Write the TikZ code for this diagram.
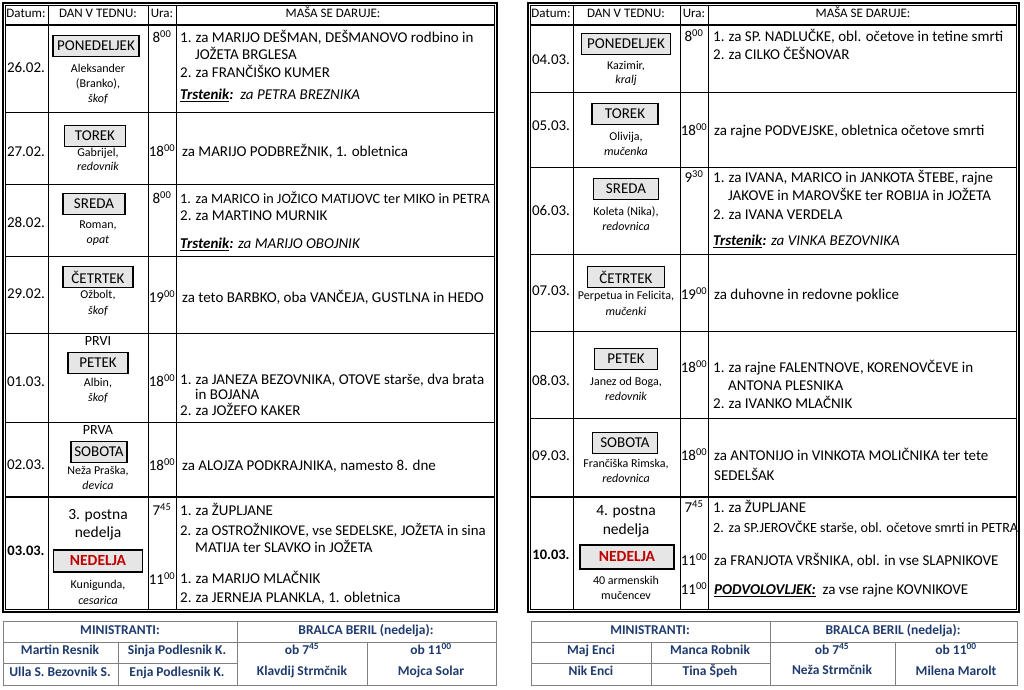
\documentclass[tikz,border=0pt]{standalone}
\usepackage{fontspec}
\setmainfont{Carlito}
\definecolor{boxgray}{HTML}{E6E6E6}
\definecolor{ndred}{HTML}{C00000}
\definecolor{navy}{HTML}{1F3A6E}
\definecolor{gridgray}{HTML}{808080}
\newcommand{\fs}[2]{\fontsize{#1}{#2}\selectfont}
\newcommand{\hr}[1]{\textsuperscript{#1}}
\newcommand{\nr}[1]{\makebox[15.5pt][l]{#1}}
\tikzset{
  thickborder/.style={line width=2pt},
  thinborder/.style={line width=0.8pt},
  gridline/.style={line width=1pt},
  hdrline/.style={line width=2pt},
  hdr/.style={font=\fs{13}{15}, inner sep=0pt, anchor=mid},
  txt/.style={font=\fs{15}{18}, inner sep=0pt, anchor=mid west},
  datum/.style={font=\fs{15}{18}, inner sep=0pt, anchor=mid},
  saint/.style={font=\fs{12}{14}, inner sep=0pt, anchor=mid},
  ura/.style={font=\fs{15}{18}, inner sep=0pt, anchor=mid},
  big/.style={font=\fs{15.5}{18}, inner sep=0pt, anchor=mid},
  daybox/.style={draw, line width=1.4pt, fill=boxgray, font=\fs{15}{18}, minimum height=21pt, inner sep=0pt, anchor=center},
  btab/.style={draw=gridgray, line width=1pt},
  btxt/.style={font=\bfseries\fs{13.5}{16}, text=navy, inner sep=0pt, anchor=mid},
}
\begin{document}
\begin{tikzpicture}[x=1pt,y=-1pt]
\useasboundingbox[fill=white] (0,0) rectangle (1024,689);

% ================= LEFT TABLE =================
\node[hdr] (lh1) at (26,15) {Datum:};
\node[hdr] (lh2) at (98,15) {DAN V TEDNU:};
\node[hdr] (lh3) at (162,15) {Ura:};
\node[hdr] (lh4) at (333,15) {MAŠA SE DARUJE:};

% row 1
\node[datum] (l1d) at (26,70) {26.02.};
\node[daybox, minimum width=86pt] (l1b) at (96,46) {PONEDELJEK};
\node[saint] (l1s1) at (98,70) {Aleksander};
\node[saint] (l1s2) at (98,85) {(Branko),};
\node[saint] (l1s3) at (98,100) {\itshape škof};
\node[ura] (l1u) at (162,40) {8\hr{00}};

% row 2
\node[datum] (l2d) at (26,154) {27.02.};
\node[daybox, minimum width=61pt] (l2b) at (95,136) {TOREK};
\node[saint] (l2s1) at (98,154) {Gabrijel,};
\node[saint] (l2s2) at (98,168) {\itshape redovnik};
\node[ura] (l2u) at (162,154) {18\hr{00}};

% row 3
\node[datum] (l3d) at (26,225) {28.02.};
\node[daybox, minimum width=62pt] (l3b) at (94,204) {SREDA};
\node[saint] (l3s1) at (98,226) {Roman,};
\node[saint] (l3s2) at (98,241) {\itshape opat};
\node[ura] (l3u) at (162,201) {8\hr{00}};

% row 4
\node[datum] (l4d) at (26,296) {29.02.};
\node[daybox, minimum width=70pt] (l4b) at (98,277) {ČETRTEK};
\node[saint] (l4s1) at (98,296) {Ožbolt,};
\node[saint] (l4s2) at (98,312) {\itshape škof};
\node[ura] (l4u) at (162,300) {19\hr{00}};

% row 5
\node[saint, font=\fs{14}{16}] (l5p) at (98,343) {PRVI};
\node[daybox, minimum width=60pt] (l5b) at (98,363) {PETEK};
\node[saint] (l5s1) at (98,384) {Albin,};
\node[saint] (l5s2) at (98,399) {\itshape škof};
\node[datum] (l5d) at (26,384) {01.03.};
\node[ura] (l5u) at (162,384) {18\hr{00}};

% row 6
\node[saint, font=\fs{14}{16}] (l6p) at (98,432) {PRVA};
\node[daybox, minimum width=56pt] (l6b) at (99,452) {SOBOTA};
\node[saint] (l6s1) at (98,472) {Neža Praška,};
\node[saint] (l6s2) at (98,487) {\itshape devica};
\node[datum] (l6d) at (26,467) {02.03.};
\node[ura] (l6u) at (162,468) {18\hr{00}};

% row 7
\node[big] (l7p1) at (98,517) {3. postna};
\node[big] (l7p2) at (98,535) {nedelja};
\node[daybox, minimum width=89pt, minimum height=22pt, text=ndred, font=\bfseries\fs{15.5}{18}] (l7b) at (98,561) {NEDELJA};
\node[saint] (l7s1) at (98,586) {Kunigunda,};
\node[saint] (l7s2) at (98,602) {\itshape cesarica};
\node[datum, font=\bfseries\fs{14.5}{18}] (l7d) at (26,553) {03.03.};
\node[ura] (l7u1) at (162,513) {7\hr{45}};
\node[ura] (l7u2) at (162,582) {11\hr{00}};

\node[txt] (l1t1) at (180,40) {\nr{1.}za MARIJO DEŠMAN, DEŠMANOVO rodbino in};
\node[txt] (l1t2) at (195,57) {JOŽETA BRGLESA};
\node[txt] (l1t3) at (180,75) {\nr{2.}za FRANČIŠKO KUMER};
\node[txt] (l1t4) at (180,97) {\textbf{\textit{\underline{Trstenik}:}}\ \ \textit{za PETRA BREZNIKA}};
\node[txt] (l2t1) at (182,154) {za MARIJO PODBREŽNIK, 1. obletnica};
\node[txt, font=\fs{14.25}{18}] (l3t1) at (180,201) {\nr{1.}za MARICO in JOŽICO MATIJOVC ter MIKO in PETRA};
\node[txt] (l3t2) at (180,218) {\nr{2.}za MARTINO MURNIK};
\node[txt] (l3t3) at (180,246) {\textbf{\textit{\underline{Trstenik}:}} \textit{za MARIJO OBOJNIK}};
\node[txt] (l4t1) at (182,300) {za teto BARBKO, oba VANČEJA, GUSTLNA in HEDO};
\node[txt] (l5t1) at (180,382) {\nr{1.}za JANEZA BEZOVNIKA, OTOVE starše, dva brata};
\node[txt] (l5t2) at (195,397) {in BOJANA};
\node[txt] (l5t3) at (180,413) {\nr{2.}za JOŽEFO KAKER};
\node[txt] (l6t1) at (182,468) {za ALOJZA PODKRAJNIKA, namesto 8. dne};
\node[txt] (l7t1) at (180,513) {\nr{1.}za ŽUPLJANE};
\node[txt, font=\fs{14.8}{18}] (l7t2) at (180,533) {\nr{2.}za OSTROŽNIKOVE, vse SEDELSKE, JOŽETA in sina};
\node[txt] (l7t3) at (195,550) {MATIJA ter SLAVKO in JOŽETA};
\node[txt] (l7t4) at (180,581) {\nr{1.}za MARIJO MLAČNIK};
\node[txt] (l7t5) at (180,600) {\nr{2.}za JERNEJA PLANKLA, 1. obletnica};

\draw[gridline] (5,112) -- (494,112) (5,184) -- (494,184) (5,256) -- (494,256)
                (5,333) -- (494,333) (5,422) -- (494,422);
\draw[hdrline] (5,25) -- (494,25) (5,497) -- (494,497);
\draw[gridline] (48,5) -- (48,609) (148,5) -- (148,609) (176,5) -- (176,609);
\draw[thickborder] (2.5,2.5) rectangle (496.5,611.5);
\draw[thinborder] (5,5) rectangle (494,609);

% ================= RIGHT TABLE =================
\node[hdr] (rh1) at (551,15) {Datum:};
\node[hdr] (rh2) at (626,15) {DAN V TEDNU:};
\node[hdr] (rh3) at (694,15) {Ura:};
\node[hdr] (rh4) at (863,15) {MAŠA SE DARUJE:};

% row 1
\node[datum] (r1d) at (551,62) {04.03.};
\node[daybox, minimum width=89pt] (r1b) at (626,44) {PONEDELJEK};
\node[saint] (r1s1) at (626,67) {Kazimir,};
\node[saint] (r1s2) at (626,81) {\itshape kralj};
\node[ura] (r1u) at (694,39) {8\hr{00}};

% row 2
\node[datum] (r2d) at (551,128) {05.03.};
\node[daybox, minimum width=66pt] (r2b) at (625,114) {TOREK};
\node[saint] (r2s1) at (626,138) {Olivija,};
\node[saint] (r2s2) at (626,153) {\itshape mučenka};
\node[ura] (r2u) at (694,133) {18\hr{00}};

% row 3
\node[datum] (r3d) at (551,213) {06.03.};
\node[daybox, minimum width=65pt] (r3b) at (626,189) {SREDA};
\node[saint] (r3s1) at (626,213) {Koleta (Nika),};
\node[saint] (r3s2) at (626,228) {\itshape redovnica};
\node[ura] (r3u) at (694,180) {9\hr{30}};

% row 4
\node[datum] (r4d) at (551,293) {07.03.};
\node[daybox, minimum width=77pt] (r4b) at (626,277) {ČETRTEK};
\node[saint] (r4s1) at (626,297) {Perpetua in Felicita,};
\node[saint] (r4s2) at (626,313) {\itshape mučenki};
\node[ura] (r4u) at (694,297) {19\hr{00}};

% row 5
\node[datum] (r5d) at (551,383) {08.03.};
\node[daybox, minimum width=63pt] (r5b) at (626,359) {PETEK};
\node[saint] (r5s1) at (626,383) {Janez od Boga,};
\node[saint] (r5s2) at (626,398) {\itshape redovnik};
\node[ura] (r5u) at (694,370) {18\hr{00}};

% row 6
\node[datum] (r6d) at (551,458) {09.03.};
\node[daybox, minimum width=65pt] (r6b) at (625,443) {SOBOTA};
\node[saint] (r6s1) at (626,465) {Frančiška Rimska,};
\node[saint] (r6s2) at (626,480) {\itshape redovnica};
\node[ura] (r6u) at (694,458) {18\hr{00}};

% row 7
\node[big] (r7p1) at (626,513) {4. postna};
\node[big] (r7p2) at (626,532) {nedelja};
\node[daybox, minimum width=94pt, minimum height=24pt, text=ndred, font=\bfseries\fs{15.5}{18}] (r7b) at (627,557) {NEDELJA};
\node[saint] (r7s1) at (626,582) {40 armenskih};
\node[saint] (r7s2) at (626,597) {mučencev};
\node[datum, font=\bfseries\fs{14.5}{18}] (r7d) at (551,557) {10.03.};
\node[ura] (r7u1) at (694,510) {7\hr{45}};
\node[ura] (r7u2) at (694,563) {11\hr{00}};
\node[ura] (r7u3) at (694,592) {11\hr{00}};

\node[txt] (r1t1) at (713,39) {\nr{1.}za SP. NADLUČKE, obl. očetove in tetine smrti};
\node[txt] (r1t2) at (713,57) {\nr{2.}za CILKO ČEŠNOVAR};
\node[txt] (r2t1) at (714,133) {za rajne PODVEJSKE, obletnica očetove smrti};
\node[txt] (r3t1) at (713,180) {\nr{1.}za IVANA, MARICO in JANKOTA ŠTEBE, rajne};
\node[txt] (r3t2) at (728,198) {JAKOVE in MAROVŠKE ter ROBIJA in JOŽETA};
\node[txt] (r3t3) at (713,217) {\nr{2.}za IVANA VERDELA};
\node[txt] (r3t4) at (713,243) {\textbf{\textit{\underline{Trstenik}:}} \textit{za VINKA BEZOVNIKA}};
\node[txt] (r4t1) at (714,297) {za duhovne in redovne poklice};
\node[txt] (r5t1) at (713,370) {\nr{1.}za rajne FALENTNOVE, KORENOVČEVE in};
\node[txt] (r5t2) at (728,388) {ANTONA PLESNIKA};
\node[txt] (r5t3) at (713,406) {\nr{2.}za IVANKO MLAČNIK};
\node[txt] (r6t1) at (714,458) {za ANTONIJO in VINKOTA MOLIČNIKA ter tete};
\node[txt] (r6t2) at (714,478) {SEDELŠAK};
\node[txt] (r7t1) at (713,510) {\nr{1.}za ŽUPLJANE};
\node[txt, font=\fs{14.05}{18}] (r7t2) at (713,530) {\nr{2.}za SP.JEROVČKE starše, obl. očetove smrti in PETRA};
\node[txt] (r7t3) at (714,563) {za FRANJOTA VRŠNIKA, obl. in vse SLAPNIKOVE};
\node[txt] (r7t4) at (714,592) {\textbf{\textit{\underline{PODVOLOVLJEK:}}}\ \ za vse rajne KOVNIKOVE};

\draw[gridline] (531,92) -- (1016,92) (531,167) -- (1016,167) (531,254) -- (1016,254)
                (531,331) -- (1016,331) (531,418) -- (1016,418);
\draw[hdrline] (531,25) -- (1016,25) (531,497) -- (1016,497);
\draw[gridline] (573,5) -- (573,609) (680,5) -- (680,609) (708,5) -- (708,609);
\draw[thickborder] (528,2.5) rectangle (1019,611.5);
\draw[thinborder] (530.5,5) rectangle (1016.5,609);

% ================= BOTTOM LEFT =================
\draw[btab] (3,621) rectangle (496,685);
\draw[btab] (3,642) -- (496,642) (3,663) -- (237,663);
\draw[btab] (237,621) -- (237,685) (118,642) -- (118,685) (367,642) -- (367,685);
\node[btxt] (bl1) at (120,632) {MINISTRANTI:};
\node[btxt] (bl2) at (366,632) {BRALCA BERIL (nedelja):};
\node[btxt] (bl3) at (60,652) {Martin Resnik};
\node[btxt] (bl4) at (177,652) {Sinja Podlesnik K.};
\node[btxt] (bl5) at (60,674) {Ulla S. Bezovnik S.};
\node[btxt] (bl6) at (177,674) {Enja Podlesnik K.};
\node[btxt] (bl7) at (302,652) {ob 7\hr{45}};
\node[btxt] (bl8) at (302,673) {Klavdij Strmčnik};
\node[btxt] (bl9) at (431,652) {ob 11\hr{00}};
\node[btxt] (bl10) at (431,673) {Mojca Solar};

% ================= BOTTOM RIGHT =================
\draw[btab] (531,621) rectangle (1017,685);
\draw[btab] (531,642) -- (1017,642) (531,663) -- (770,663);
\draw[btab] (770,621) -- (770,685) (651,642) -- (651,685) (895,642) -- (895,685);
\node[btxt] (br1) at (650,632) {MINISTRANTI:};
\node[btxt] (br2) at (893,632) {BRALCA BERIL (nedelja):};
\node[btxt] (br3) at (591,652) {Maj Enci};
\node[btxt] (br4) at (710,652) {Manca Robnik};
\node[btxt] (br5) at (591,673) {Nik Enci};
\node[btxt] (br6) at (710,673) {Tina Špeh};
\node[btxt] (br7) at (832,652) {ob 7\hr{45}};
\node[btxt] (br8) at (832,672) {Neža Strmčnik};
\node[btxt] (br9) at (956,652) {ob 11\hr{00}};
\node[btxt] (br10) at (956,673) {Milena Marolt};
\end{tikzpicture}
\end{document}
